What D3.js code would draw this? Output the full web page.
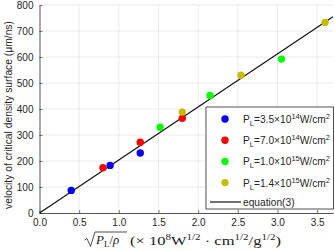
<!DOCTYPE html>
<html>
<head>
<meta charset="utf-8">
<script src="https://cdn.jsdelivr.net/npm/d3@7"></script>
<style>
  body { margin: 0; background: #fff; }
  text { font-family: Arial, "Liberation Sans", sans-serif; }
</style>
</head>
<body>
<div id="chart-area"></div>
<script>
const xTicks = [0, 0.5, 1, 1.5, 2, 2.5, 3, 3.5];
const yTicks = [0, 100, 200, 300, 400, 500, 600, 700, 800];

const blueX = [0.40, 0.89, 1.27];
const blueY = [87, 183, 231];
const redX = [0.80, 1.27, 1.80];
const redY = [174, 272, 364];
const greenX = [1.52, 2.15, 3.05];
const greenY = [330, 452, 592];
const yellowX = [1.80, 2.54, 3.60];
const yellowY = [388, 530, 733];

const powers = [
  { mant: "3.5", exp: "14" },
  { mant: "7.0", exp: "14" },
  { mant: "1.0", exp: "15" },
  { mant: "1.4", exp: "15" }
];
const colors = ["#0000ff", "#ff0000", "#00ff00", "#c8bc00"];

const eqSlope = 204;
const eqX = [0, 3.7];

const series = [
  _zip(blueX, blueY),
  _zip(redX, redY),
  _zip(greenX, greenY),
  _zip(yellowX, yellowY)
];

function _zip(xs, ys) {
  return xs.map((x, i) => ({ x, y: ys[i] }));
}

const chartSize = { width: 335, height: 251 };
const margin = { left: 39.5, right: 2, top: 5, bottom: 38 };
const width = chartSize.width - margin.left - margin.right;
const height = chartSize.height - margin.top - margin.bottom;

const x = d3.scaleLinear().domain([0, 3.7]).range([0, width]);
const y = d3.scaleLinear().domain([0, 800]).range([height, 0]);

const svg = d3
  .select("#chart-area")
  .append("svg")
  .attr("width", chartSize.width)
  .attr("height", chartSize.height);

const g = svg
  .append("g")
  .attr("transform", `translate(${margin.left},${margin.top})`);

// grid
g.append("g")
  .selectAll("line")
  .data(xTicks.slice(1))
  .enter()
  .append("line")
  .attr("x1", d => x(d))
  .attr("x2", d => x(d))
  .attr("y1", 0)
  .attr("y2", height)
  .attr("stroke", "#e4e4e4")
  .attr("stroke-width", 0.8);

g.append("g")
  .selectAll("line")
  .data(yTicks.slice(1))
  .enter()
  .append("line")
  .attr("x1", 0)
  .attr("x2", width)
  .attr("y1", d => y(d))
  .attr("y2", d => y(d))
  .attr("stroke", "#e4e4e4")
  .attr("stroke-width", 0.8);

const xAxis = d3.axisBottom(x).tickValues(xTicks).tickSize(-3).tickPadding(6).tickSizeOuter(0);
const yAxis = d3.axisLeft(y).tickValues(yTicks).tickSize(-3).tickPadding(6).tickSizeOuter(0);

const gx = g.append("g")
  .attr("transform", `translate(0,${height})`)
  .call(xAxis);
const gy = g.append("g").call(yAxis);

[gx, gy].forEach(ax => {
  ax.select(".domain").attr("stroke", "#262626").attr("stroke-width", 0.8);
  ax.selectAll(".tick line").attr("stroke", "#262626").attr("stroke-width", 0.6);
  ax.selectAll(".tick text")
    .attr("fill", "#262626")
    .style("font-size", "10px")
    .style("font-family", "Arial, 'Liberation Sans', sans-serif");
});

// equation line
const line = d3.line().x(d => x(d)).y(d => y(eqSlope * d));
g.append("path")
  .attr("d", line(eqX))
  .attr("fill", "none")
  .attr("stroke", "#111")
  .attr("stroke-width", 1.2);

// points
series.forEach((s, i) => {
  g.append("g")
    .selectAll("circle")
    .data(s)
    .enter()
    .append("circle")
    .attr("cx", d => x(d.x))
    .attr("cy", d => y(d.y))
    .attr("r", 3.7)
    .attr("fill", colors[i]);
});

// y label
svg.append("text")
  .attr("transform", "translate(12,115) rotate(-90)")
  .attr("text-anchor", "middle")
  .style("font-size", "10.3px")
  .attr("fill", "#262626")
  .text("velocity of critical density surface (\u03bcm/ns)");

// x label
const xl = svg.append("g").attr("transform", "translate(0,247)");
xl.append("path")
  .attr("d", "M84.5,-7 L87,-8.5 L90.5,-0.5 L95,-15 L127,-15")
  .attr("fill", "none")
  .attr("stroke", "#222")
  .attr("stroke-width", 0.8);
const rad = xl.append("text")
  .attr("x", 96)
  .attr("y", -3)
  .style("font-family", "'Liberation Serif', 'DejaVu Serif', serif")
  .style("font-size", "13px")
  .attr("fill", "#222");
rad.append("tspan").style("font-style", "italic").text("P");
rad.append("tspan").attr("dy", 2.5).style("font-size", "9px").style("font-style", "normal").text("L");
rad.append("tspan").attr("dy", -2.5).text("/");
rad.append("tspan").style("font-style", "italic").text("\u03c1");

const units = xl.append("text")
  .attr("x", 130)
  .attr("y", -2)
  .attr("textLength", 151)
  .attr("lengthAdjust", "spacingAndGlyphs")
  .style("font-family", "'Liberation Serif', 'DejaVu Serif', serif")
  .style("font-size", "13.5px")
  .attr("fill", "#222");
units.append("tspan").text("(\u00d7 10");
units.append("tspan").attr("dy", -5).style("font-size", "9px").text("8");
units.append("tspan").attr("dy", 5).text("W");
units.append("tspan").attr("dy", -5).style("font-size", "9px").text("1/2");
units.append("tspan").attr("dy", 5).text(" \u00b7 cm");
units.append("tspan").attr("dy", -5).style("font-size", "9px").text("1/2");
units.append("tspan").attr("dy", 5).text("/g");
units.append("tspan").attr("dy", -5).style("font-size", "9px").text("1/2");
units.append("tspan").attr("dy", 5).text(")");

// legend
const lg = svg.append("g").attr("transform", "translate(206,107)");
lg.append("rect")
  .attr("width", 127.5)
  .attr("height", 102)
  .attr("fill", "#fff")
  .attr("stroke", "#262626")
  .attr("stroke-width", 0.8);

powers.forEach((p, i) => {
  const row = lg.append("g").attr("transform", `translate(0,${12 + i * 21.2})`);
  row.append("circle").attr("cx", 19).attr("cy", 0).attr("r", 3.7).attr("fill", colors[i]);
  const t = row.append("text")
    .attr("x", 37)
    .attr("y", 4)
    .style("font-size", "10.2px")
    .attr("fill", "#262626");
  t.append("tspan").text("P");
  t.append("tspan").attr("dy", 3).style("font-size", "7.5px").text("L");
  t.append("tspan").attr("dy", -3).text(`=${p.mant}\u00d710`);
  t.append("tspan").attr("dy", -4).style("font-size", "7.5px").text(p.exp);
  t.append("tspan").attr("dy", 4).text("W/cm");
  t.append("tspan").attr("dy", -4).style("font-size", "7.5px").text("2");
});

const eqRow = lg.append("g").attr("transform", "translate(0,95)");
eqRow.append("line")
  .attr("x1", 4).attr("x2", 35)
  .attr("y1", 0).attr("y2", 0)
  .attr("stroke", "#111").attr("stroke-width", 1.2);
eqRow.append("text")
  .attr("x", 37)
  .attr("y", 3.5)
  .style("font-size", "10.2px")
  .attr("fill", "#262626")
  .text("equation(3)");
</script>
</body>
</html>
